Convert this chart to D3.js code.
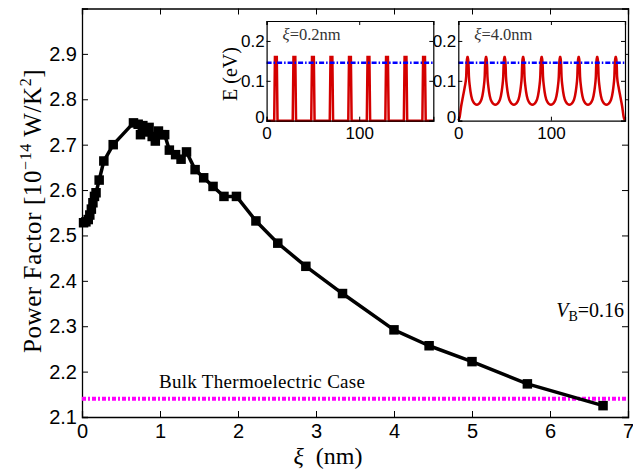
<!DOCTYPE html>
<html>
<head>
<meta charset="utf-8">
<script src="https://cdn.jsdelivr.net/npm/d3@7"></script>
<style>
  body { margin: 0; background: #fff; }
  .tick-label { font-family: "Liberation Sans", Arial, sans-serif; font-size: 20px; fill: #000; }
  .inset-tick { font-family: "Liberation Sans", Arial, sans-serif; font-size: 17px; fill: #000; }
  .serif { font-family: "Liberation Serif", "DejaVu Serif", serif; fill: #000; }
</style>
</head>
<body>
<div id="chart"></div>
<script>
// main curve: power factor vs correlation length xi (nm)
const xi = [0.02, 0.05, 0.08, 0.10, 0.12, 0.14, 0.16, 0.18, 0.22, 0.28, 0.40,
    0.66, 0.72, 0.75, 0.78, 0.82, 0.86, 0.90, 0.94, 0.98, 1.02, 1.06, 1.12, 1.20, 1.27, 1.34,
    1.45, 1.56, 1.68, 1.82, 1.98, 2.23, 2.51, 2.87, 3.34, 4.00, 4.45, 5.00, 5.71, 6.68];
const powerFactor = [2.528, 2.530, 2.535, 2.545, 2.558, 2.572, 2.586, 2.594, 2.622, 2.664, 2.700,
    2.748, 2.745, 2.722, 2.742, 2.728, 2.738, 2.718, 2.708, 2.730, 2.722, 2.722, 2.688, 2.678, 2.668, 2.684,
    2.645, 2.627, 2.608, 2.586, 2.586, 2.532, 2.483, 2.432, 2.372, 2.292, 2.257, 2.222, 2.173, 2.125];
const bulkPF = 2.14;

const xTicks = [0, 1, 2, 3, 4, 5, 6, 7];
const yTicks = [2.1, 2.2, 2.3, 2.4, 2.5, 2.6, 2.7, 2.8, 2.9];

// inset potential profiles, position (nm) and energy (eV)
const pos02 = [0, 8.2, 9, 11, 11.8, 28.2, 29, 31, 31.8, 48.2, 49, 51, 51.8,
    68.2, 69, 71, 71.8, 88.2, 89, 91, 91.8, 108.2, 109, 111, 111.8,
    128.2, 129, 131, 131.8, 148.2, 149, 151, 151.8, 168.2, 169, 171, 171.8, 180];
const energy02 = [0, 0, 0.16, 0.16, 0, 0, 0.16, 0.16, 0, 0, 0.16, 0.16, 0,
    0, 0.16, 0.16, 0, 0, 0.16, 0.16, 0, 0, 0.16, 0.16, 0,
    0, 0.16, 0.16, 0, 0, 0.16, 0.16, 0, 0, 0.16, 0.16, 0, 0];

const pos40 = [0, 1.5, 3, 5, 7, 8.5, 9.3, 10.7, 11.5, 12.5, 14, 16, 20,
    24, 26, 27.5, 28.5, 29.3, 30.7, 31.5, 32.5, 34, 36, 40,
    44, 46, 47.5, 48.5, 49.3, 50.7, 51.5, 52.5, 54, 56, 60,
    64, 66, 67.5, 68.5, 69.3, 70.7, 71.5, 72.5, 74, 76, 80,
    84, 86, 87.5, 88.5, 89.3, 90.7, 91.5, 92.5, 94, 96, 100,
    104, 106, 107.5, 108.5, 109.3, 110.7, 111.5, 112.5, 114, 116, 120,
    124, 126, 127.5, 128.5, 129.3, 130.7, 131.5, 132.5, 134, 136, 140,
    144, 146, 147.5, 148.5, 149.3, 150.7, 151.5, 152.5, 154, 156, 160,
    164, 166, 167.5, 168.5, 169.3, 170.7, 171.5, 173, 175, 177, 178.5, 180];
const energy40 = [0, 0.01, 0.035, 0.06, 0.085, 0.11, 0.16, 0.16, 0.11, 0.085, 0.062, 0.048, 0.04,
    0.048, 0.062, 0.085, 0.11, 0.16, 0.16, 0.11, 0.085, 0.062, 0.048, 0.04,
    0.048, 0.062, 0.085, 0.11, 0.16, 0.16, 0.11, 0.085, 0.062, 0.048, 0.04,
    0.048, 0.062, 0.085, 0.11, 0.16, 0.16, 0.11, 0.085, 0.062, 0.048, 0.04,
    0.048, 0.062, 0.085, 0.11, 0.16, 0.16, 0.11, 0.085, 0.062, 0.048, 0.04,
    0.048, 0.062, 0.085, 0.11, 0.16, 0.16, 0.11, 0.085, 0.062, 0.048, 0.04,
    0.048, 0.062, 0.085, 0.11, 0.16, 0.16, 0.11, 0.085, 0.062, 0.048, 0.04,
    0.048, 0.062, 0.085, 0.11, 0.16, 0.16, 0.11, 0.085, 0.062, 0.048, 0.04,
    0.048, 0.062, 0.085, 0.11, 0.16, 0.16, 0.11, 0.085, 0.06, 0.035, 0.01, 0];
const fermiLevel = 0.145;
const insetXTicks = [0, 100];
const insetYTicks = [0, 0.1, 0.2];

const width = 633, height = 472;
const margin = { top: 8.5, right: 5, bottom: 55, left: 82 };
const plotW = width - margin.left - margin.right;
const plotH = height - margin.top - margin.bottom;

const svg = d3.select("#chart")
    .append("svg")
    .attr("width", width)
    .attr("height", height)
    .style("background", "#fff");

const x = d3.scaleLinear().domain([0, 7]).range([margin.left, margin.left + plotW]);
const y = d3.scaleLinear().domain([2.1, 3.0]).range([margin.top + plotH, margin.top]);

// inward ticks on all four sides
const main = svg.append("g");
main.append("g").attr("transform", `translate(0,${margin.top + plotH})`)
    .call(d3.axisBottom(x).tickValues(xTicks).tickSize(-6).tickPadding(7).tickFormat(d3.format("d")));
main.append("g").attr("transform", `translate(0,${margin.top})`)
    .call(d3.axisTop(x).tickValues(xTicks).tickSize(-6).tickFormat(""));
main.append("g").attr("transform", `translate(${margin.left},0)`)
    .call(d3.axisLeft(y).tickValues(yTicks).tickSize(-6).tickPadding(5).tickFormat(d3.format(".1f")));
main.append("g").attr("transform", `translate(${margin.left + plotW},0)`)
    .call(d3.axisRight(y).tickValues(yTicks).tickSize(-6).tickFormat(""));
main.selectAll(".domain").attr("stroke", "#000").attr("stroke-width", 1.3);
main.selectAll(".tick line").attr("stroke", "#000");
main.selectAll("text").attr("font-size", null).attr("font-family", null).attr("class", "tick-label");

// bulk reference line
svg.append("line")
    .attr("x1", x(0)).attr("x2", x(7))
    .attr("y1", y(bulkPF)).attr("y2", y(bulkPF))
    .attr("stroke", "#ff00ff").attr("stroke-width", 4)
    .attr("stroke-dasharray", "4,2,2,2");

svg.append("text")
    .attr("class", "serif")
    .attr("x", x(1) - 1)
    .attr("y", y(bulkPF) - 11)
    .style("font-size", "19px")
    .style("letter-spacing", "0.3px")
    .text("Bulk Thermoelectric Case");

// power factor curve
const pts = xi.map((d, i) => [d, powerFactor[i]]);
svg.append("path")
    .datum(pts)
    .attr("fill", "none")
    .attr("stroke", "#000")
    .attr("stroke-width", 3.5)
    .attr("stroke-linejoin", "round")
    .attr("d", d3.line().x(d => x(d[0])).y(d => y(d[1])));

svg.selectAll(".marker")
    .data(pts)
    .enter()
    .append("rect")
    .attr("x", d => x(d[0]) - 4.75)
    .attr("y", d => y(d[1]) - 4.75)
    .attr("width", 9.5)
    .attr("height", 9.5)
    .attr("fill", "#000");

// V_B annotation
const vb = svg.append("text").attr("class", "serif")
    .attr("x", x(7) - 4).attr("y", y(2.32))
    .attr("text-anchor", "end")
    .style("font-size", "20px");
vb.append("tspan").style("font-style", "italic").text("V");
vb.append("tspan").attr("dy", 4).style("font-size", "14px").text("B");
vb.append("tspan").attr("dy", -4).text("=0.16");

// axis titles
const xt = svg.append("text").attr("class", "serif")
    .attr("x", 328).attr("y", 464)
    .attr("text-anchor", "middle")
    .style("font-size", "24px");
xt.append("tspan").style("font-style", "italic").text("ξ");
xt.append("tspan").text("\u2002(nm)");

const yt = svg.append("text").attr("class", "serif")
    .attr("transform", `translate(41,${y(2.554)}) rotate(-90)`)
    .attr("text-anchor", "middle")
    .style("font-size", "25px")
    .style("letter-spacing", "0.6px");
yt.append("tspan").text("Power Factor [10");
yt.append("tspan").attr("dy", -10).style("font-size", "16px").text("−14");
yt.append("tspan").attr("dy", 10).text(" W/K");
yt.append("tspan").attr("dy", -10).style("font-size", "16px").text("2");
yt.append("tspan").attr("dy", 10).text("]");

// insets
function drawInset(left, posArr, eArr, label, smooth) {
    const top = 21, w = 166.7, h = 99.7;
    const ix = d3.scaleLinear().domain([0, 180]).range([left, left + w]);
    const iy = d3.scaleLinear().domain([0, 0.25]).range([top + h, top]);
    const g = svg.append("g");

    g.append("rect").attr("x", left).attr("y", top).attr("width", w).attr("height", h)
        .attr("fill", "#fff");

    const line = d3.line().x((d, i) => ix(posArr[i])).y(d => iy(d));
    if (smooth) line.curve(d3.curveMonotoneX);
    g.append("path")
        .datum(eArr)
        .attr("fill", "none")
        .attr("stroke", "#d40000")
        .attr("stroke-width", 2.5)
        .attr("d", line);

    g.append("line")
        .attr("x1", ix(0)).attr("x2", ix(180))
        .attr("y1", iy(fermiLevel)).attr("y2", iy(fermiLevel))
        .attr("stroke", "#0000ff").attr("stroke-width", 2.5)
        .attr("stroke-dasharray", "5,2,1.5,2");

    const ax = g.append("g");
    ax.append("g").attr("transform", `translate(0,${top + h})`)
        .call(d3.axisBottom(ix).tickValues(insetXTicks).tickSize(-4).tickPadding(6));
    ax.append("g").attr("transform", `translate(0,${top})`)
        .call(d3.axisTop(ix).tickValues(insetXTicks).tickSize(-4).tickFormat(""));
    const yAx = ax.append("g").attr("transform", `translate(${left},0)`)
        .call(d3.axisLeft(iy).tickValues(insetYTicks).tickSize(-4).tickPadding(2).tickFormat(d => d === 0 ? "0" : d3.format(".1f")(d)));
    // lift the zero label a little so it clears the x-axis zero
    yAx.selectAll(".tick").filter(d => d === 0).select("text").attr("dy", "0.1em");
    ax.append("g").attr("transform", `translate(${left + w},0)`)
        .call(d3.axisRight(iy).tickValues(insetYTicks).tickSize(-4).tickFormat(""));
    ax.selectAll(".domain").attr("stroke", "#000").attr("stroke-width", 1.2);
    ax.selectAll(".tick line").attr("stroke", "#000");
    ax.selectAll("text").attr("font-size", null).attr("font-family", null).attr("class", "inset-tick");

    const t = g.append("text").attr("class", "serif")
        .attr("x", left + 16).attr("y", top + 19)
        .style("font-size", "16.5px")
        .style("fill", "#333");
    t.append("tspan").style("font-style", "italic").text("ξ");
    t.append("tspan").text(label);
}

drawInset(266.6, pos02, energy02, "=0.2nm", false);
drawInset(458.3, pos40, energy40, "=4.0nm", true);

svg.append("text").attr("class", "serif")
    .attr("transform", `translate(237,74) rotate(-90)`)
    .attr("text-anchor", "middle")
    .style("font-size", "20px")
    .text("E (eV)");
</script>
</body>
</html>
